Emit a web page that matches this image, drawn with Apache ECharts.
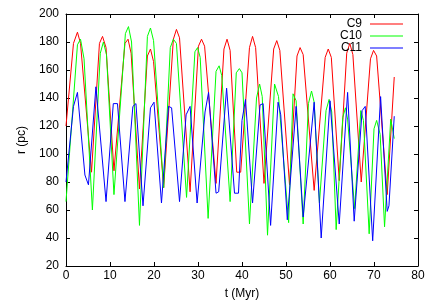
<!DOCTYPE html>
<html>
<head>
<meta charset="utf-8">
<script src="https://cdn.jsdelivr.net/npm/echarts@6/dist/echarts.min.js"></script>
<style>
html,body{margin:0;padding:0;background:#fff;}
#chart{width:436px;height:305px;}
</style>
</head>
<body>
<div id="chart"></div>
<script>
// C9 (red)
const c9T = [0, 1.7, 2.6, 3.3, 5.8, 7.6, 8.3, 9.1, 10.9, 13.4, 14.1, 14.8, 16.7, 18.5, 19.2, 19.9, 22.2, 24.4, 25.1, 25.8, 28.2, 30.1, 30.8, 31.5, 34.1, 35.9, 36.6, 37.3, 38.8, 39.7, 41.7, 42.4, 43.1, 45.0, 47.2, 47.9, 48.6, 50.8, 52.5, 53.2, 53.9, 56.4, 58.9, 59.6, 60.3, 62.1, 63.8, 64.5, 65.2, 67.1, 69.2, 69.9, 70.6, 73.0, 74.6];
const c9R = [120, 179, 187, 179, 87, 179, 184, 176, 88, 179, 182, 172, 75, 170, 175, 166, 76, 182, 189, 183, 73, 177, 182, 177, 79, 175, 182, 174, 87, 87, 176, 184, 176, 79, 175, 181, 174, 78, 170, 176, 171, 74, 169, 175, 169, 81, 172, 179, 171, 80, 168, 174, 170, 71, 155];
// C10 (green)
const c10T = [0, 2.6, 3.3, 4.1, 6.0, 7.8, 8.5, 9.2, 10.9, 13.5, 14.2, 14.9, 16.7, 18.5, 19.2, 19.9, 22.2, 23.7, 24.4, 25.1, 27.4, 29.3, 29.9, 30.5, 32.3, 34.1, 34.8, 35.4, 37.3, 38.7, 39.4, 40.0, 41.7, 43.3, 44.0, 44.6, 45.8, 47.4, 48.3, 50.6, 51.6, 52.3, 53.9, 55.1, 55.8, 56.4, 57.6, 59.1, 59.8, 60.4, 61.4, 62.9, 63.5, 64.0, 65.6, 67.0, 67.6, 68.9, 70.0, 70.6, 71.4, 72.4, 73.8, 74.6];
const c10R = [66, 178, 182, 168, 60, 172, 180, 171, 71, 186, 191, 180, 49, 184, 190, 181, 76, 176, 182, 179, 69, 173, 176, 169, 54, 159, 163, 156, 66, 158, 161, 158, 50, 140, 150, 141, 42, 150, 141, 51, 143, 138, 50, 136, 145, 137, 65, 131, 139, 130, 46, 126, 133, 125, 61, 131, 124, 43, 118, 124, 114, 48, 125, 111];
// C11 (blue)
const c11T = [0, 1.7, 2.6, 4.3, 5.1, 6.8, 9.1, 10.75, 11.7, 13.4, 15.2, 15.9, 17.5, 19.2, 20.0, 21.7, 23.3, 24.0, 25.8, 27.3, 28.2, 29.8, 31.6, 32.4, 34.1, 34.7, 36.5, 38.3, 39.2, 40.0, 40.8, 42.4, 44.1, 44.8, 46.5, 48.2, 48.8, 50.3, 52.3, 53.9, 56.4, 58.0, 60.0, 62.1, 64.0, 65.5, 67.3, 68.0, 69.7, 71.5, 73.0, 73.4, 74.6];
const c11R = [80, 134, 144, 85, 78, 148, 66, 136, 136, 66, 134, 136, 63, 133, 137, 65, 134, 133, 66, 128, 134, 65, 130, 144, 72, 73, 147, 72, 72, 124, 139, 65, 135, 136, 49, 137, 128, 53, 134, 55, 137, 40, 138, 50, 144, 52, 131, 134, 38, 141, 59, 63, 127];

const seriesNames = ['C9', 'C10', 'C11'];
const seriesColors = ['#ff0000', '#00ff00', '#0000ff'];
const xTicks = {min: 0, max: 80, step: 10};
const yTicks = {min: 20, max: 200, step: 20};

const FONT = '"Liberation Sans", Arial, Helvetica, sans-serif';
const pairs = (t, r) => t.map((v, i) => [v, r[i]]);
const allData = [pairs(c9T, c9R), pairs(c10T, c10R), pairs(c11T, c11R)];

const axisCommon = {
  type: 'value',
  axisLine: {show: true, onZero: false, lineStyle: {color: '#000', width: 1}},
  axisTick: {show: true, inside: true, length: 4, lineStyle: {color: '#000', width: 1}},
  splitLine: {show: false}
};

const chart = echarts.init(document.getElementById('chart'), null, {renderer: 'canvas'});
chart.setOption({
  animation: false,
  backgroundColor: '#fff',
  grid: {left: 66, right: 18, top: 14, bottom: 39, containLabel: false, outerBoundsMode: 'none'},
  legend: {
    data: seriesNames,
    orient: 'vertical',
    right: 33,
    top: 18,
    align: 'right',
    padding: 0,
    itemGap: 0,
    itemWidth: 33,
    itemHeight: 1,
    icon: 'rect',
    textStyle: {fontFamily: FONT, fontSize: 12, lineHeight: 12, color: '#000', padding: [0, 3, 0, 0]}
  },
  xAxis: [
    Object.assign({}, axisCommon, {
      position: 'bottom', min: xTicks.min, max: xTicks.max, interval: xTicks.step,
      axisLabel: {color: '#000', fontSize: 12, fontFamily: FONT, margin: 4},
      name: 't (Myr)', nameLocation: 'middle', nameGap: 22,
      nameTextStyle: {color: '#000', fontSize: 12, fontFamily: FONT}
    }),
    Object.assign({}, axisCommon, {
      position: 'top', min: xTicks.min, max: xTicks.max, interval: xTicks.step,
      axisLabel: {show: false}
    })
  ],
  yAxis: [
    Object.assign({}, axisCommon, {
      position: 'left', min: yTicks.min, max: yTicks.max, interval: yTicks.step,
      axisLabel: {color: '#000', fontSize: 12, fontFamily: FONT, margin: 7},
      name: 'r (pc)', nameLocation: 'middle', nameGap: 38, nameRotate: 90,
      nameTextStyle: {color: '#000', fontSize: 12, fontFamily: FONT}
    }),
    Object.assign({}, axisCommon, {
      position: 'right', min: yTicks.min, max: yTicks.max, interval: yTicks.step,
      axisLabel: {show: false}
    })
  ],
  series: seriesNames.map((name, i) => ({
    name: name,
    type: 'line',
    xAxisIndex: 0,
    yAxisIndex: 0,
    data: allData[i],
    showSymbol: false,
    symbol: 'none',
    color: seriesColors[i],
    lineStyle: {color: seriesColors[i], width: 1},
    emphasis: {disabled: true}
  }))
});
</script>
</body>
</html>
